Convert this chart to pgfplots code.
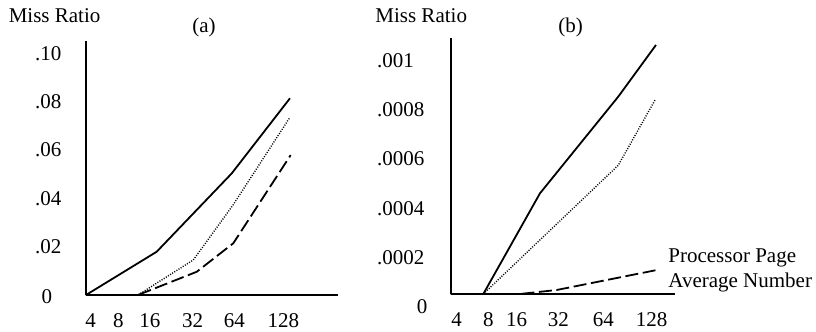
\documentclass[border=0pt]{standalone}
\usepackage{pgfplots}
\pgfplotsset{compat=1.18}
\usepackage{fontspec}
\setmainfont{Liberation Serif}
\newcommand{\lbl}{\fontsize{10.5}{12}\selectfont}
\pgfplotsset{
  miss/.style={
    anchor=south west, scale only axis, clip=false,
    axis x line*=bottom, axis y line*=left,
    axis line style={line width=1pt, -},
    major tick length=0pt,
    scaled y ticks=false,
    tick label style={font=\lbl},
    xticklabel style={yshift=-5.7pt},
  },
  solidln/.style={black, line width=0.9pt, no marks},
  dotln/.style={black, line width=0.7pt, no marks, dash pattern=on 0.5pt off 0.75pt},
  dashln/.style={black, line width=0.9pt, no marks, dash pattern=on 6.5pt off 2.3pt},
}
\begin{document}
\begin{tikzpicture}
\path[use as bounding box] (0,0) rectangle (408pt,166pt);

% ---------------- panel (a)
\begin{axis}[miss,
  at={(43pt,18.5pt)}, width=126pt, height=127pt,
  xmin=0, xmax=252, ymin=0, ymax=0.10509,
  xtick={4.7,32.3,64,106.7,148.3,197.3},
  xticklabels={4,8,16,32,64,128},
  ytick={0.02,0.04,0.06,0.08,0.10},
  yticklabels={.02,.04,.06,.08,.10},
  yticklabel style={anchor=west, xshift=-29pt},
]
\addplot[solidln] coordinates {(0,0) (70.7,0.0179) (145.7,0.0503) (204,0.0814)};
\addplot[dotln] coordinates {(0,0) (52,0) (107.3,0.0145) (147,0.0372) (203.3,0.0731)};
\addplot[dashln] coordinates {(0,0) (52,0) (110.7,0.0096) (147.3,0.0214) (204.7,0.0579)};
\end{axis}

% ---------------- panel (b)
\begin{axis}[miss,
  at={(225.5pt,19pt)}, width=112pt, height=128pt,
  xmin=0, xmax=224, ymin=0.0000516, ymax=0.0010923,
  xtick={5.7,37.3,65.7,107.3,152.3,200.7},
  xticklabels={4,8,16,32,64,128},
  ytick={0.0002,0.0004,0.0006,0.0008,0.001},
  yticklabels={.0002,.0004,.0006,.0008,.001},
  yticklabel style={anchor=west, xshift=-40.5pt},
]
\addplot[solidln] coordinates {(0,0.0000516) (32.3,0.0000516) (89,0.000461) (167.3,0.000854) (205,0.001064)};
\addplot[dotln] coordinates {(0,0.0000516) (32.3,0.0000516) (167.3,0.000575) (204,0.000840)};
\addplot[dashln] coordinates {(0,0.0000516) (69,0.0000516) (105.7,0.0000679) (205.7,0.000149)};
\end{axis}

% ---------------- free text
\node[font=\lbl, inner sep=0pt, anchor=base west] at (4.2pt,154.5pt) {Miss Ratio};
\node[font=\lbl, inner sep=0pt, anchor=base west] at (187.5pt,154.5pt) {Miss Ratio};
\node[font=\lbl, inner sep=0pt, anchor=base] at (102pt,149.5pt) {(a)};
\node[font=\lbl, inner sep=0pt, anchor=base] at (285.3pt,149.5pt) {(b)};
\node[font=\lbl, inner sep=0pt] at (23.5pt,17.5pt) {0};
\node[font=\lbl, inner sep=0pt] at (211pt,12.7pt) {0};
\node[font=\lbl, inner sep=0pt, anchor=base west] at (334pt,34.5pt) {Processor Page};
\node[font=\lbl, inner sep=0pt, anchor=base west] at (334pt,22pt) {Average Number};
\end{tikzpicture}
\end{document}
